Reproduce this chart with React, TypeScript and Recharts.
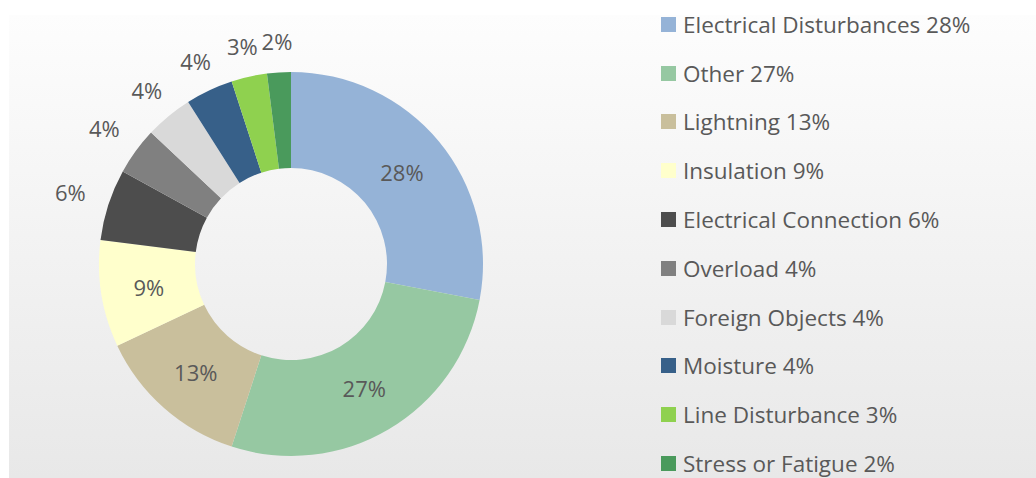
import React, { ReactElement } from "react";
import { PieChart, Pie, Cell } from "recharts";

const causes: string[] = [
    "Electrical Disturbances",
    "Other",
    "Lightning",
    "Insulation",
    "Electrical Connection",
    "Overload",
    "Foreign Objects",
    "Moisture",
    "Line Disturbance",
    "Stress or Fatigue"
];
const shares: number[] = [28, 27, 13, 9, 6, 4, 4, 4, 3, 2];
const colors: string[] = [
    "#95b3d7",
    "#96c8a2",
    "#c9bf9c",
    "#ffffcc",
    "#4d4d4d",
    "#808080",
    "#d9d9d9",
    "#376089",
    "#8fd14f",
    "#4a9a5c"
];

const data = causes.map((name, i) => ({ name, value: shares[i] }));

const FONT = "'Open Sans', 'Noto Sans', sans-serif";
const TEXT = "#595959";
const RADIAN = Math.PI / 180;

// big slices get their label in the ring, small ones outside
const renderLabel = (props: any): ReactElement => {
    const { cx, cy, midAngle, innerRadius, outerRadius, value } = props;
    const cos = Math.cos(-midAngle * RADIAN);
    const sin = Math.sin(-midAngle * RADIAN);
    let r = (innerRadius + outerRadius) / 2;
    if (value < 8) {
        const halfW = 19;
        const halfH = 11;
        const off = Math.min(
            Math.abs(cos) > 0.001 ? halfW / Math.abs(cos) : 999,
            Math.abs(sin) > 0.001 ? halfH / Math.abs(sin) : 999
        );
        r = outerRadius + 20 + off;
    }
    return (
        <text
            x={cx + r * cos}
            y={cy + r * sin}
            fill={TEXT}
            fontFamily={FONT}
            fontSize={22}
            textAnchor="middle"
            dominantBaseline="central"
        >
            {value}%
        </text>
    );
};

// legend kept in the original order (Recharts would sort it)
const LegendBox = (): ReactElement => (
    <div style={{ position: "absolute", left: 661, top: 0 }}>
        {causes.map((name, i) => (
            <div
                key={name}
                style={{
                    height: 48.8,
                    display: "flex",
                    alignItems: "center",
                    fontFamily: FONT,
                    fontSize: 22.5,
                    color: TEXT,
                    whiteSpace: "nowrap"
                }}
            >
                <span
                    style={{
                        width: 15,
                        height: 15,
                        background: colors[i],
                        marginRight: 7,
                        display: "inline-block"
                    }}
                />
                {name} {shares[i]}%
            </div>
        ))}
    </div>
);

const App = (): ReactElement => {
    return (
        <div style={{ position: "absolute", left: 0, top: 0, width: 1036, height: 478, background: "#ffffff", overflow: "hidden" }}>
            <div
                style={{
                    position: "absolute",
                    left: 9,
                    top: 15,
                    width: 1027,
                    height: 463,
                    background: "linear-gradient(#fdfdfd, #e8e8e8)"
                }}
            />
            <div style={{ position: "absolute", left: 0, top: 0 }}>
                <PieChart width={640} height={478} margin={{ top: 0, right: 0, bottom: 0, left: 0 }}>
                    <Pie
                        data={data}
                        dataKey="value"
                        nameKey="name"
                        cx={291}
                        cy={264}
                        innerRadius={96}
                        outerRadius={192}
                        startAngle={90}
                        endAngle={-270}
                        stroke="none"
                        label={renderLabel}
                        labelLine={false}
                        isAnimationActive={false}
                    >
                        {data.map((d, i) => (
                            <Cell key={d.name} fill={colors[i]} />
                        ))}
                    </Pie>
                </PieChart>
            </div>
            <LegendBox />
        </div>
    );
};

export default App;
